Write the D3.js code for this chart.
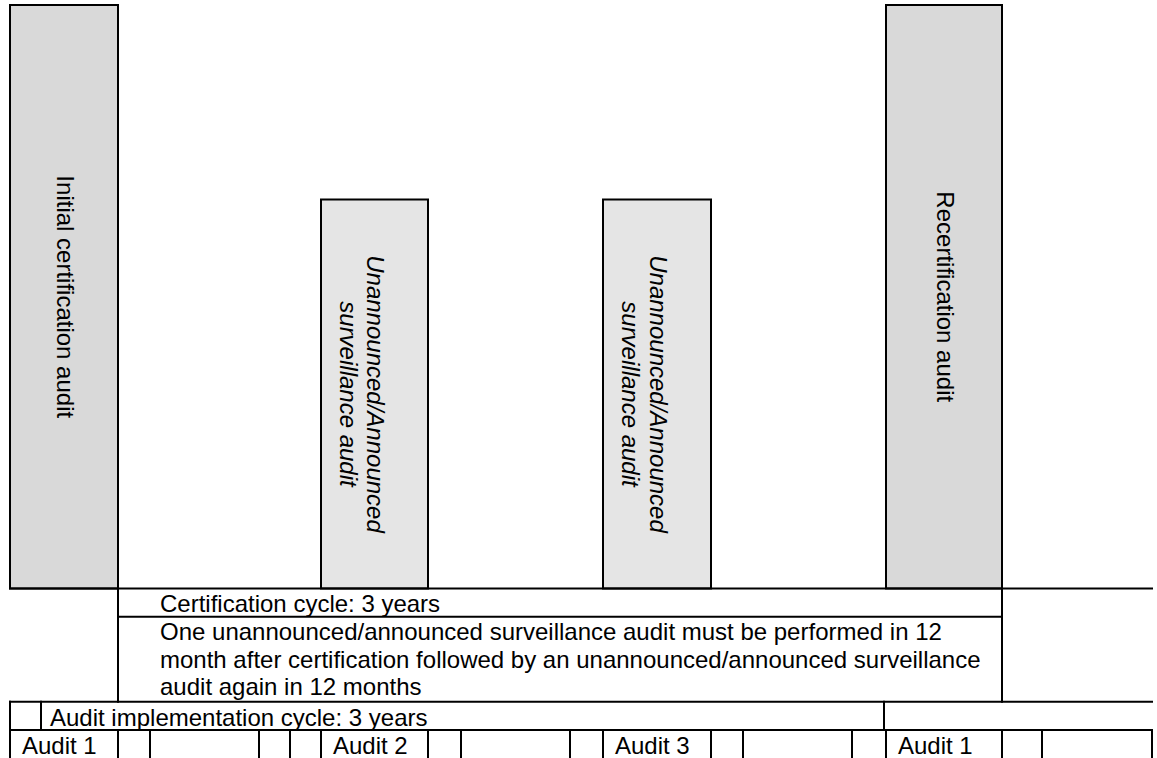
<!DOCTYPE html>
<head>
  <meta charset="utf-8">
  <script src="https://d3js.org/d3.v7.min.js"></script>
  <style>
    body { margin: 0; background: #fff; }
    text {
      font-family: "Liberation Sans", Arial, sans-serif;
      font-size: 24px;
      fill: #000;
    }
  </style>
</head>

<body>
  <script>

  // bottom row of the timeline, one entry per cell
  var cellLabels = ["Audit 1", "", "", "", "", "Audit 2", "", "", "", "Audit 3", "", "", "", "Audit 1", "", ""];
  var cellWidths = [108, 32, 109, 31, 31, 107, 33, 109, 33, 108, 32, 109, 34, 116, 40, 110];

  // audits shown as bars (column of the bottom row, height in levels)
  var barCols = [0, 5, 9, 13];
  var barLevels = [3, 2, 2, 3];
  var barTypes = ["certification", "surveillance", "surveillance", "certification"];
  var barLabels = [
    ["Initial certification audit"],
    ["Unannounced/Announced", "surveillance audit"],
    ["Unannounced/Announced", "surveillance audit"],
    ["Recertification audit"]
  ];

  var cycleText = "Certification cycle: 3 years";
  var ruleLines = [
    "One unannounced/announced surveillance audit must be performed in 12",
    "month after certification followed by an unannounced/announced surveillance",
    "audit again in 12 months"
  ];
  var implText = "Audit implementation cycle: 3 years";
  var implWidths = [31, 843, 268];

  var width = 1157, height = 758;

  var svg = d3.select("body").append("svg")
      .attr("width", width)
      .attr("height", height);

  var edges = [0];
  cellWidths.forEach(function(w) { edges.push(edges[edges.length - 1] + w); });
  var implEdges = [0];
  implWidths.forEach(function(w) { implEdges.push(implEdges[implEdges.length - 1] + w); });

  var x = d3.scaleLinear()
      .domain([0, d3.sum(cellWidths)])
      .range([10, 1152]);

  var y = d3.scaleLinear()
      .domain([0, 3])
      .range([588.5, 5]);

  var fill = d3.scaleOrdinal()
      .domain(["certification", "surveillance"])
      .range(["#d9d9d9", "#e5e5e5"]);

  var rowH = 28.3;
  var yA = y(0), yB = yA + rowH, yC = yB + ruleLines.length * rowH, yD = yC + rowH, yEnd = yD + rowH + 10;
  var lineH = 27.5, textOff = 23.5;

  // BARS
  var bars = svg.append("g")
    .selectAll("g")
    .data(barCols)
    .enter().append("g");

  bars.append("rect")
      .attr("x", function(d) { return x(edges[d]); })
      .attr("y", function(d, i) { return y(barLevels[i]); })
      .attr("width", function(d) { return x(edges[d + 1]) - x(edges[d]); })
      .attr("height", function(d, i) { return y(0) - y(barLevels[i]); })
      .attr("fill", function(d, i) { return fill(barTypes[i]); })
      .attr("stroke", "#000")
      .attr("stroke-width", 2);

  var barText = bars.append("text")
      .attr("text-anchor", "middle")
      .attr("font-style", function(d, i) { return barTypes[i] == "surveillance" ? "italic" : "normal"; })
      .attr("transform", function(d, i) {
        var cx = (x(edges[d]) + x(edges[d + 1])) / 2;
        var cy = (y(0) + y(barLevels[i])) / 2;
        return "translate(" + cx + "," + cy + ")rotate(90)";
      });

  barText.selectAll("tspan")
    .data(function(d, i) { return barLabels[i]; })
    .enter().append("tspan")
      .attr("x", 0)
      .attr("y", function(d, j) { return 7.5 + j * lineH; })
      .text(function(d) { return d; });

  // TABLE LINES
  var lines = [];
  lines.push([x(0), yA, x(edges[edges.length - 1]), yA]);
  lines.push([x(edges[1]), yA, x(edges[1]), yC]);
  lines.push([x(edges[14]), yA, x(edges[14]), yC]);
  lines.push([x(edges[1]), yB, x(edges[14]), yB]);
  lines.push([x(0), yC, x(edges[edges.length - 1]), yC]);
  lines.push([x(0), yD, x(edges[edges.length - 1]), yD]);
  implEdges.slice(0, -1).forEach(function(e) {
    lines.push([x(e), yC, x(e), yD]);
  });
  edges.forEach(function(e) {
    lines.push([x(e), yD, x(e), yEnd]);
  });

  svg.append("g")
    .selectAll("line")
    .data(lines)
    .enter().append("line")
      .attr("x1", function(d) { return d[0]; })
      .attr("y1", function(d) { return d[1]; })
      .attr("x2", function(d) { return d[2]; })
      .attr("y2", function(d) { return d[3]; })
      .attr("stroke", "#000")
      .attr("stroke-width", 2)
      .attr("stroke-linecap", "square");

  // TABLE TEXT
  svg.append("text")
      .attr("x", x(edges[2]) + 10)
      .attr("y", yA + textOff)
      .text(cycleText);

  svg.append("g")
    .selectAll("text")
    .data(ruleLines)
    .enter().append("text")
      .attr("x", x(edges[2]) + 10)
      .attr("y", function(d, i) { return yB + textOff + i * lineH; })
      .text(function(d) { return d; });

  svg.append("text")
      .attr("x", x(implEdges[1]) + 9)
      .attr("y", yC + textOff + 1)
      .text(implText);

  svg.append("g")
    .selectAll("text")
    .data(cellLabels)
    .enter().append("text")
      .attr("x", function(d, i) { return x(edges[i]) + 12; })
      .attr("y", yD + textOff)
      .text(function(d) { return d; });

  </script>
</body>
